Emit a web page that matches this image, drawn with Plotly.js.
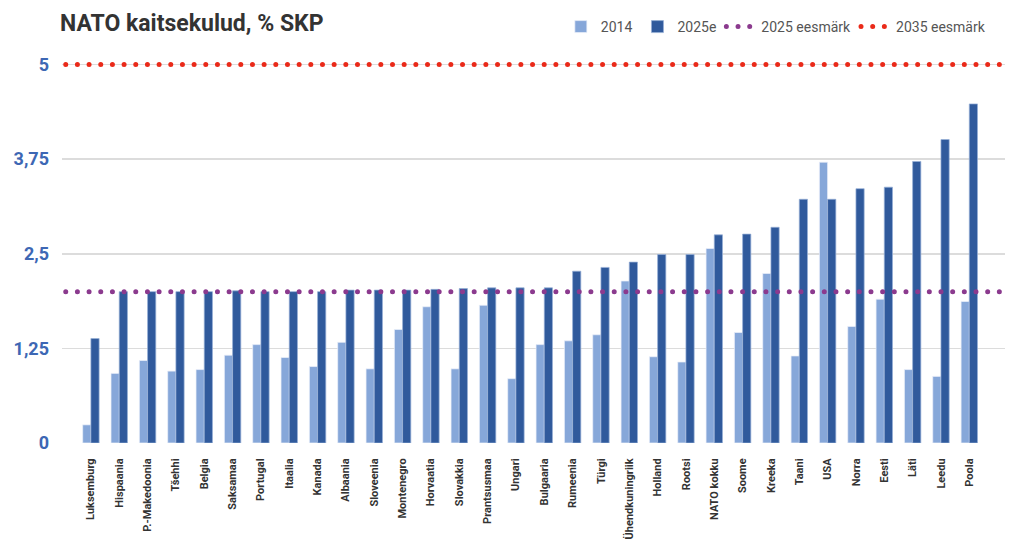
<!DOCTYPE html>
<html>
<head>
<meta charset="utf-8">
<script src="https://cdn.plot.ly/plotly-3.0.1.min.js"></script>
<style>
  html, body { margin: 0; padding: 0; background: #fff; }
  #chart { width: 1024px; height: 547px; }
  path.js-line { stroke-linecap: round !important; }
</style>
</head>
<body>
<div id="chart"></div>
<script>
const countries = ["Luksemburg","Hispaania","P.-Makedoonia","Tšehhi","Belgia","Saksamaa","Portugal","Itaalia","Kanada","Albaania","Sloveenia","Montenegro","Horvaatia","Slovakkia","Prantsusmaa","Ungari","Bulgaaria","Rumeenia","Türgi","Ühendkuningriik","Holland","Rootsi","NATO kokku","Soome","Kreeka","Taani","USA","Norra","Eesti","Läti","Leedu","Poola"];
const values2014 = [0.24,0.92,1.09,0.95,0.97,1.16,1.30,1.13,1.01,1.33,0.98,1.50,1.80,0.98,1.82,0.85,1.30,1.35,1.43,2.14,1.14,1.07,2.57,1.46,2.24,1.15,3.71,1.54,1.90,0.97,0.88,1.87];
const values2025 = [1.38,2.00,2.00,2.00,2.00,2.01,2.00,2.00,2.00,2.02,2.02,2.02,2.03,2.04,2.05,2.05,2.05,2.27,2.32,2.39,2.49,2.49,2.75,2.76,2.85,3.22,3.22,3.36,3.38,3.72,4.01,4.48];
const target2025 = 2;
const target2035 = 5;
const seriesNames = ["2014","2025e","2025 eesmärk","2035 eesmärk"];

const dotDash = "0px,11.67px";

const traces = [
  {type:"bar", name:seriesNames[0], x:countries, y:values2014,
   marker:{color:"#86a7d9", line:{color:"rgba(235,240,250,0.9)", width:0.8}}},
  {type:"bar", name:seriesNames[1], x:countries, y:values2025,
   marker:{color:"#305a9c", line:{color:"rgba(150,175,215,0.9)", width:0.8}}},
  {type:"scatter", mode:"lines", name:seriesNames[2], xaxis:"x2", yaxis:"y",
   x:[0,1], y:[target2025,target2025],
   line:{color:"#8b3a8e", width:5, dash:dotDash}, hoverinfo:"skip"},
  {type:"scatter", mode:"lines", name:seriesNames[3], xaxis:"x2", yaxis:"y",
   x:[0,1], y:[target2035,target2035],
   line:{color:"#ea2a19", width:5, dash:dotDash}, hoverinfo:"skip"}
];

const layout = {
  width:1024, height:547,
  paper_bgcolor:"#fff", plot_bgcolor:"#fff",
  separators:",.",
  margin:{l:62, r:19, t:57, b:104},
  font:{family:"Roboto, 'Liberation Sans', sans-serif", color:"#333"},
  title:{text:"NATO kaitsekulud, % SKP", x:60/1024, xref:"container", xanchor:"left",
         y:1-23/547, yref:"container", yanchor:"middle",
         font:{family:"Roboto, sans-serif", size:23, weight:700, color:"#333"}},
  barmode:"group", bargap:0.42, bargroupgap:0,
  showlegend:true,
  legend:{orientation:"h", x:0.985, xref:"paper", xanchor:"right", y:1-27/547, yref:"container", yanchor:"middle",
          font:{size:14, color:"#555"}, itemwidth:30, traceorder:"normal", bgcolor:"rgba(0,0,0,0)"},
  xaxis:{type:"category", range:[-1.02, 32.26], showgrid:false, zeroline:false, showline:false,
         tickangle:-90, ticks:"outside", ticklen:10, tickcolor:"rgba(0,0,0,0)",
         tickfont:{size:11, weight:700, color:"#333"}, fixedrange:true},
  xaxis2:{overlaying:"x", range:[-0.004, 1.004], visible:false, fixedrange:true},
  yaxis:{range:[0, 5.1], tick0:0, dtick:1.25, showgrid:true, gridcolor:"#dcdcdc", gridwidth:1.5,
         zeroline:false, showline:false, ticks:"", ticklabelstandoff:12,
         tickfont:{size:18, weight:700, color:"#3d67b4"}, fixedrange:true}
};

Plotly.newPlot("chart", traces, layout, {displayModeBar:false, staticPlot:true});
</script>
</body>
</html>
